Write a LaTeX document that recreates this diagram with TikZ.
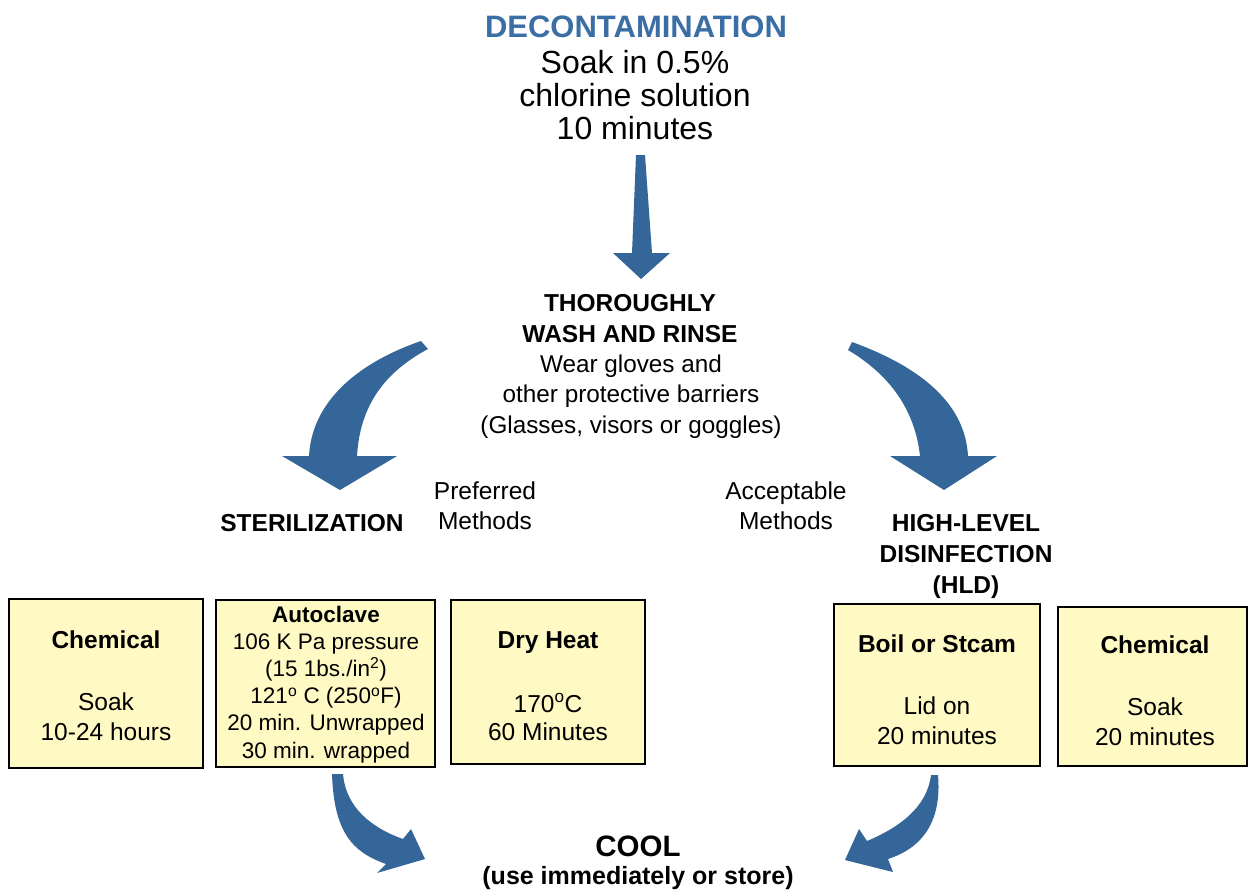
\documentclass[tikz,border=0pt]{standalone}
\usepackage{fontspec}
\setmainfont{Liberation Sans}
\definecolor{arrowblue}{RGB}{52,102,153}
\definecolor{titleblue}{RGB}{58,110,165}
\definecolor{boxfill}{RGB}{255,250,196}
\begin{document}
\begin{tikzpicture}[x=1pt,y=-1pt,
  box/.style={draw=black,line width=2.2pt,fill=boxfill,inner sep=0pt},
  lbl/.style={anchor=base,align=center,inner sep=0pt},
  fatarrow/.style={fill=arrowblue,draw=none}]
\useasboundingbox (0,0) rectangle (1249,892);

% ---------- top (multi-line nodes: base = last line) ----------
\node[lbl,text=titleblue,font=\bfseries\fontsize{31}{33}\selectfont] (title) at (636,37) {DECONTAMINATION};
\node[lbl,font=\fontsize{32}{33}\selectfont] (decon) at (635,139) {Soak in 0.5\%\\chlorine solution\\10 minutes};

% ---------- wash ----------
\node[lbl,font=\bfseries\fontsize{24.5}{30.5}\selectfont] (wash) at (630,342) {THOROUGHLY\\WASH AND RINSE};
\node[lbl,font=\fontsize{24.3}{30.5}\selectfont] (wear) at (631,433) {Wear gloves and\\other protective barriers\\(Glasses, visors or goggles)};

% ---------- branch labels ----------
\node[lbl,font=\fontsize{24.5}{30}\selectfont] (pref) at (485,529) {Preferred\\Methods};
\node[lbl,font=\fontsize{24.5}{30}\selectfont] (acc) at (786,529) {Acceptable\\Methods};
\node[lbl,font=\bfseries\fontsize{24.5}{31}\selectfont] (steril) at (312,531) {STERILIZATION};
\node[lbl,font=\bfseries\fontsize{24.5}{31}\selectfont] (hld) at (966,593) {HIGH-LEVEL\\DISINFECTION\\(HLD)};

% ---------- boxes ----------
\node[box,minimum width=194pt,minimum height=169pt] (b1) at (106,683.5) {};
\node[box,minimum width=219pt,minimum height=167pt] (b2) at (325.5,683.5) {};
\node[box,minimum width=194pt,minimum height=164pt] (b3) at (548,682) {};
\node[box,minimum width=206pt,minimum height=162pt] (b4) at (937,685) {};
\node[box,minimum width=189pt,minimum height=159pt] (b5) at (1152.5,686.5) {};

\node[lbl,font=\bfseries\fontsize{24.5}{30}\selectfont] (b1t) at (106,648) {Chemical};
\node[lbl,font=\fontsize{24.5}{30}\selectfont] (b1b) at (106,740) {Soak\\10-24 hours};

\node[lbl,font=\fontsize{22.5}{27.2}\selectfont] (b2t) at (326,758) {\textbf{Autoclave}\\106 K Pa pressure\\(15 1bs./in\textsuperscript{2})\\121\textsuperscript{o} C (250\textsuperscript{o}F)\\20 min. Unwrapped\\30 min. wrapped};

\node[lbl,font=\bfseries\fontsize{24.5}{30}\selectfont] (b3t) at (548,648) {Dry Heat};
\node[lbl,font=\fontsize{24.5}{28}\selectfont] (b3b) at (548,740) {170\textsuperscript{o}C\\60 Minutes};

\node[lbl,font=\bfseries\fontsize{24.5}{30}\selectfont] (b4t) at (937,652) {Boil or Stcam};
\node[lbl,font=\fontsize{24.5}{30}\selectfont] (b4b) at (937,744) {Lid on\\20 minutes};

\node[lbl,font=\bfseries\fontsize{24.5}{30}\selectfont] (b5t) at (1155,653) {Chemical};
\node[lbl,font=\fontsize{24.5}{30}\selectfont] (b5b) at (1155,745) {Soak\\20 minutes};

% ---------- cool ----------
\node[lbl,font=\bfseries\fontsize{29.5}{30}\selectfont] (cool) at (638,856) {COOL};
\node[lbl,font=\bfseries\fontsize{25}{30}\selectfont] (coolsub) at (638,884) {(use immediately or store)};

% ---------- arrows ----------
% straight down
\fill[fatarrow] (636,155) -- (645,155) -- (652,253) -- (670,253) -- (641,279)
  -- (613,253) -- (632,253) -- cycle;
% left curved
\fill[fatarrow] (421,341) .. controls (360,362) and (312,400) .. (309,456)
  -- (282,456) -- (340,490) -- (397,456) -- (357,456)
  .. controls (360,405) and (385,372) .. (428,349) -- cycle;
% right curved
\fill[fatarrow] (852,342) .. controls (915,365) and (965,400) .. (968,456)
  -- (997,456) -- (944,490) -- (890,456) -- (920,456)
  .. controls (915,410) and (890,375) .. (848,350) -- cycle;
% bottom left
\fill[fatarrow] (332,774) .. controls (334,832) and (352,852) .. (386,864)
  -- (377,873) -- (425,859) -- (411,829) -- (403,839)
  .. controls (372,828) and (346,808) .. (343,774) -- cycle;
% bottom right
\fill[fatarrow] (938,775) .. controls (942,822) and (922,848) .. (888,859)
  -- (893,872) -- (845,860) -- (859,829) -- (867,841)
  .. controls (898,828) and (927,808) .. (931,775) -- cycle;
\end{tikzpicture}
\end{document}
